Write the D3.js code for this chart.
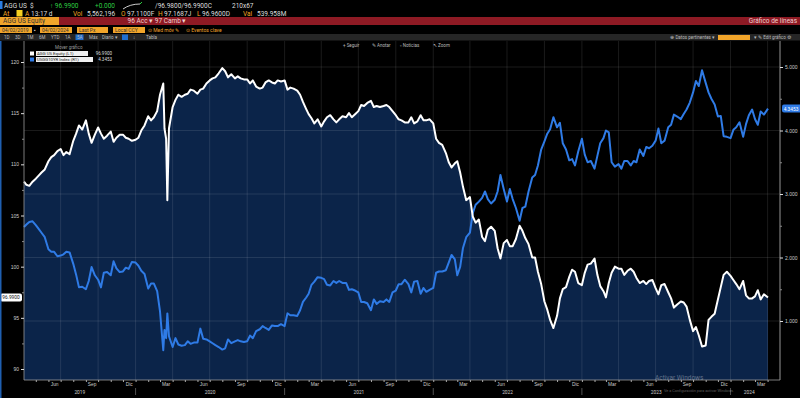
<!doctype html>
<html lang="es">
<head>
<meta charset="utf-8">
<script src="https://cdn.jsdelivr.net/npm/d3@7"></script>
<style>
  body {margin:0; background:#000}
  svg {display:block; font-family:Roboto, "Liberation Sans", sans-serif}
</style>
</head>
<body>
<script>
// weekly-ish closes: AGG US Equity (left axis) and USGG10YR Index (right axis)
const dates = [
"2019-04-02","2019-04-08","2019-04-15","2019-04-23","2019-05-01","2019-05-08","2019-05-15","2019-05-23","2019-06-01","2019-06-08","2019-06-15","2019-06-23","2019-07-01","2019-07-08","2019-07-15","2019-07-23","2019-08-01","2019-08-08","2019-08-15","2019-08-23","2019-09-01","2019-09-08","2019-09-15","2019-09-23","2019-10-01","2019-10-08","2019-10-15","2019-10-23","2019-11-01","2019-11-08","2019-11-15","2019-11-23","2019-12-01","2019-12-08","2019-12-15","2019-12-23",
"2020-01-01","2020-01-08","2020-01-15","2020-01-23","2020-02-01","2020-02-08","2020-02-15","2020-02-23","2020-03-01","2020-03-09","2020-03-12","2020-03-16","2020-03-19","2020-03-23","2020-04-01","2020-04-08","2020-04-15","2020-04-23","2020-05-01","2020-05-08","2020-05-15","2020-05-23","2020-06-01","2020-06-08","2020-06-15","2020-06-23","2020-07-01","2020-07-08","2020-07-15","2020-07-23","2020-08-01","2020-08-08","2020-08-15","2020-08-23","2020-09-01","2020-09-08","2020-09-15","2020-09-23","2020-10-01","2020-10-08","2020-10-15","2020-10-23","2020-11-01","2020-11-08","2020-11-15","2020-11-23","2020-12-01","2020-12-08","2020-12-15","2020-12-23",
"2021-01-01","2021-01-08","2021-01-15","2021-01-23","2021-02-01","2021-02-08","2021-02-15","2021-02-23","2021-03-01","2021-03-08","2021-03-15","2021-03-23","2021-04-01","2021-04-08","2021-04-15","2021-04-23","2021-05-01","2021-05-08","2021-05-15","2021-05-23","2021-06-01","2021-06-08","2021-06-15","2021-06-23","2021-07-01","2021-07-08","2021-07-15","2021-07-23","2021-08-01","2021-08-08","2021-08-15","2021-08-23","2021-09-01","2021-09-08","2021-09-15","2021-09-23","2021-10-01","2021-10-08","2021-10-15","2021-10-23","2021-11-01","2021-11-08","2021-11-15","2021-11-23","2021-12-01","2021-12-08","2021-12-15","2021-12-23",
"2022-01-01","2022-01-08","2022-01-15","2022-01-23","2022-02-01","2022-02-08","2022-02-15","2022-02-23","2022-03-01","2022-03-08","2022-03-15","2022-03-23","2022-04-01","2022-04-08","2022-04-15","2022-04-23","2022-05-01","2022-05-08","2022-05-15","2022-05-23","2022-06-01","2022-06-08","2022-06-15","2022-06-23","2022-07-01","2022-07-08","2022-07-15","2022-07-23","2022-08-01","2022-08-08","2022-08-15","2022-08-23","2022-09-01","2022-09-08","2022-09-15","2022-09-23","2022-10-01","2022-10-08","2022-10-15","2022-10-23","2022-11-01","2022-11-08","2022-11-15","2022-11-23","2022-12-01","2022-12-08","2022-12-15","2022-12-23",
"2023-01-01","2023-01-08","2023-01-15","2023-01-23","2023-02-01","2023-02-08","2023-02-15","2023-02-23","2023-03-01","2023-03-08","2023-03-15","2023-03-23","2023-04-01","2023-04-08","2023-04-15","2023-04-23","2023-05-01","2023-05-08","2023-05-15","2023-05-23","2023-06-01","2023-06-08","2023-06-15","2023-06-23","2023-07-01","2023-07-08","2023-07-15","2023-07-23","2023-08-01","2023-08-08","2023-08-15","2023-08-23","2023-09-01","2023-09-08","2023-09-15","2023-09-23","2023-10-01","2023-10-08","2023-10-15","2023-10-23","2023-11-01","2023-11-08","2023-11-15","2023-11-23","2023-12-01","2023-12-08","2023-12-15","2023-12-23",
"2024-01-01","2024-01-08","2024-01-15","2024-01-23","2024-02-01","2024-02-08","2024-02-15","2024-02-23","2024-03-01","2024-03-08","2024-03-15","2024-03-23","2024-04-02"];

const agg = [
108.3,108.0,107.9,108.3, 108.6,108.9,109.2,109.5, 110.3,110.7,110.9,111.3, 111.5,110.9,111.2,111.0, 112.3,113.0,113.8,113.4, 114.3,113.0,112.1,112.9, 113.6,113.0,112.5,112.8, 113.2,112.2,112.6,112.9, 112.9,112.6,112.5,112.3,
112.4,112.6,113.3,113.8, 114.7,114.3,114.6,115.2, 116.8,117.9,113.5,112.5,106.5,113.5, 115.6,116.3,116.8,116.6, 116.8,116.9,117.3,117.2, 116.9,117.3,117.4,117.9, 118.2,118.4,118.5,118.9, 119.4,119.1,118.5,118.8, 118.4,118.6,118.4,118.3, 118.3,117.9,118.2,117.6, 117.4,117.5,118.0,118.2, 118.0,117.9,118.2,118.1,
118.2,117.3,117.5,117.4, 117.2,116.8,116.1,115.4, 114.9,114.5,114.0,114.4, 113.7,114.2,114.6,114.8, 114.4,114.1,114.4,114.7, 114.6,115.0,114.6,114.9, 115.2,115.8,115.7,116.0, 116.2,115.6,115.7,115.6, 115.7,115.8,115.6,115.2, 114.8,114.4,114.3,114.1, 114.1,114.6,114.0,114.2, 114.8,114.3,114.3,114.4,
114.0,112.5,112.1,111.9, 111.1,110.2,109.7,110.1, 110.3,109.2,107.8,106.5, 106.8,104.9,104.3,104.6, 102.9,102.5,103.6,103.9, 103.5,101.8,100.8,102.3, 102.6,102.0,102.0,102.7, 104.0,103.5,102.8,102.2, 100.9,100.9,99.5,98.3, 96.6,95.8,94.8,94.0, 95.2,96.9,97.8,98.0, 99.0,99.7,99.5,98.4,
98.2,99.4,100.2,100.3, 100.8,99.2,98.1,97.6, 97.0,98.4,99.4,100.0, 99.8,99.8,99.2,99.6, 99.8,99.5,98.9,98.4, 98.6,98.3,98.6,98.7, 97.9,97.3,98.2,98.3, 97.5,96.9,96.0,96.3, 96.6,96.5,96.1,94.8, 93.7,94.1,93.3,92.2, 92.3,94.8,95.1,95.4, 96.8,98.0,99.2,99.5,
99.1,98.7,98.3,97.8, 98.6,97.2,96.9,96.9, 97.1,97.7,96.8,97.3, 96.99];

const yld = [
2.48,2.52,2.56,2.57, 2.51,2.45,2.39,2.32, 2.13,2.09,2.09,2.02, 2.03,2.05,2.09,2.08, 1.90,1.73,1.53,1.54, 1.50,1.63,1.85,1.72, 1.65,1.53,1.76,1.77, 1.72,1.94,1.83,1.77, 1.78,1.84,1.82,1.93,
1.92,1.87,1.79,1.74, 1.51,1.59,1.59,1.47, 1.15,0.54,0.86,0.73,1.12,0.76, 0.59,0.73,0.63,0.61, 0.62,0.68,0.64,0.66, 0.66,0.88,0.72,0.71, 0.68,0.65,0.62,0.59, 0.55,0.57,0.71,0.65, 0.68,0.70,0.68,0.67, 0.68,0.77,0.73,0.84, 0.87,0.92,0.89,0.86, 0.93,0.92,0.92,0.95,
0.92,1.12,1.09,1.09, 1.08,1.17,1.30,1.37, 1.43,1.57,1.62,1.69, 1.68,1.66,1.57,1.56, 1.63,1.60,1.63,1.60, 1.60,1.49,1.50,1.48, 1.45,1.30,1.30,1.28, 1.17,1.34,1.27,1.31, 1.30,1.34,1.30,1.45, 1.48,1.58,1.58,1.65, 1.58,1.45,1.62,1.63, 1.43,1.52,1.46,1.49,
1.52,1.76,1.78,1.78, 1.80,1.92,2.04,1.97, 1.72,1.85,2.15,2.32, 2.39,2.70,2.83,2.88, 2.94,3.04,2.92,2.85, 2.91,3.04,3.30,3.08, 2.88,3.08,2.92,2.78, 2.58,2.78,2.80,3.04, 3.26,3.30,3.45,3.70, 3.83,3.95,4.02,4.21, 4.05,4.12,3.80,3.70, 3.53,3.55,3.45,3.67,
3.87,3.62,3.50,3.52, 3.40,3.60,3.80,3.88, 4.00,3.97,3.50,3.43, 3.47,3.40,3.52,3.52, 3.45,3.52,3.50,3.70, 3.60,3.74,3.72,3.76, 3.84,4.03,3.80,3.84, 4.05,4.09,4.25,4.22, 4.18,4.26,4.33,4.44, 4.60,4.78,4.70,4.95, 4.75,4.60,4.50,4.41, 4.22,4.23,3.91,3.90,
3.88,4.01,4.05,4.13, 3.90,4.10,4.24,4.33, 4.18,4.09,4.30,4.25, 4.3453];

const leftTicks = [90,95,100,105,110,115,120];
const rightTicks = [1,2,3,4,5];
const monthNames = {3:"Mar",6:"Jun",9:"Sep",12:"Dic"};
const years = [2019,2020,2021,2022,2023,2024];

const W = 800, H = 398;
const pTop = 41, pBottom = 380, pLeft = 24, pRight = 780;
const parse = d3.timeParse("%Y-%m-%d");
const data = dates.map((d,i)=>({date:parse(d), agg:agg[i], yld:yld[i]}));

const svg = d3.select("body").append("svg").attr("width",W).attr("height",H);
svg.append("rect").attr("width",W).attr("height",H).attr("fill","#000");

// ---- terminal header ----
const hdr = svg.append("g").attr("font-size","6.5px");
hdr.append("rect").attr("x",0).attr("y",1).attr("width",2.5).attr("height",8).attr("fill","#2a7de1");
hdr.append("text").attr("x",4).attr("y",8).attr("fill","#ddd").text("AGG US");
hdr.append("text").attr("x",30).attr("y",8).attr("fill","#ddd").text("$");
hdr.append("text").attr("x",50).attr("y",8).attr("fill","#2ecc40").text("↑ 96.9900");
hdr.append("text").attr("x",95).attr("y",8).attr("fill","#2ecc40").text("+0.000");
hdr.append("path").attr("d","M123,9 Q130,4 140,4").attr("stroke","#ccc").attr("fill","none");
hdr.append("path").attr("d","M140,4 L142,2").attr("stroke","#2ecc40").attr("fill","none");
hdr.append("text").attr("x",155).attr("y",8).attr("fill","#ddd").text("/96.9800/96.9900C");
hdr.append("text").attr("x",232).attr("y",8).attr("fill","#ddd").text("210x67");

hdr.append("text").attr("x",3).attr("y",15.5).attr("fill","#f5a623").text("At");
hdr.append("rect").attr("x",16.5).attr("y",10).attr("width",6).attr("height",6.5).attr("fill","#f5d020");
hdr.append("text").attr("x",25).attr("y",15.5).attr("fill","#f5a623").text("A");
hdr.append("text").attr("x",31).attr("y",15.5).attr("fill","#ddd").text("13:17 d");
hdr.append("text").attr("x",73).attr("y",15.5).attr("fill","#f5a623").text("Vol");
hdr.append("text").attr("x",87).attr("y",15.5).attr("fill","#ddd").text("5,562,196");
hdr.append("text").attr("x",121).attr("y",15.5).attr("fill","#f5a623").text("O");
hdr.append("text").attr("x",127).attr("y",15.5).attr("fill","#ddd").text("97.1100F");
hdr.append("text").attr("x",158).attr("y",15.5).attr("fill","#f5a623").text("H");
hdr.append("text").attr("x",164).attr("y",15.5).attr("fill","#ddd").text("97.1687J");
hdr.append("text").attr("x",197).attr("y",15.5).attr("fill","#f5a623").text("L");
hdr.append("text").attr("x",202).attr("y",15.5).attr("fill","#ddd").text("96.9600D");
hdr.append("text").attr("x",243).attr("y",15.5).attr("fill","#f5a623").text("Val");
hdr.append("text").attr("x",257).attr("y",15.5).attr("fill","#ddd").text("539.958M");

hdr.append("rect").attr("x",0).attr("y",17).attr("width",W).attr("height",8).attr("fill","#8e1a24");
hdr.append("rect").attr("x",0).attr("y",17).attr("width",59).attr("height",8).attr("fill","#f2a52a");
hdr.append("text").attr("x",3).attr("y",23.3).attr("fill","#333").text("AGG US Equity");
hdr.append("text").attr("x",157).attr("y",23.3).attr("fill","#f0d0d0").attr("text-anchor","middle").text("96 Acc ▾   97 Camb ▾");
hdr.append("text").attr("x",797).attr("y",23.3).attr("fill","#f0d0d0").attr("text-anchor","end").text("Gráfico de líneas");

[[0,32,"04/02/2019"],[40,32,"04/02/2024"],[77,31,"Last Px"],[113,32,"Local CCY"]].forEach(b=>{
  hdr.append("rect").attr("x",b[0]).attr("y",27).attr("width",b[1]).attr("height",6).attr("fill","#f2a52a");
  hdr.append("text").attr("x",b[0]+2).attr("y",32).attr("font-size","5px").attr("fill","#333").text(b[2]);
});
hdr.append("text").attr("x",34).attr("y",32).attr("font-size","5px").attr("fill","#ccc").text("▪");
hdr.append("text").attr("x",148).attr("y",32).attr("font-size","5px").attr("fill","#f2a52a").text("⊙ Med móv ✎");
hdr.append("text").attr("x",186).attr("y",32).attr("font-size","5px").attr("fill","#f2a52a").text("⊙ Eventos clave");

hdr.append("rect").attr("x",0).attr("y",34).attr("width",W).attr("height",6.5).attr("fill","#262626");
hdr.append("rect").attr("x",75.5).attr("y",34.5).attr("width",8).attr("height",5.5).attr("fill","#1f6fd0");
hdr.append("rect").attr("x",122).attr("y",34.5).attr("width",6).attr("height",5.5).attr("fill","#1f6fd0");
[[4,"1D"],[15,"3D"],[27,"1M"],[39,"6M"],[51,"YTD"],[65,"1A"],[77,"5A"],[89,"Máx"],[102,"Diario ▾"],[133,"↕"],[146,"Tabla"]].forEach(b=>{
  hdr.append("text").attr("x",b[0]).attr("y",39.3).attr("font-size","4.5px").attr("fill","#bbb").text(b[1]);
});
hdr.append("text").attr("x",715).attr("y",39.3).attr("font-size","4.5px").attr("fill","#bbb").attr("text-anchor","end").text("⊕ Datos pertinentes ▾");
hdr.append("rect").attr("x",718).attr("y",35).attr("width",32).attr("height",5).attr("fill","#f2a52a");
hdr.append("text").attr("x",754).attr("y",39.3).attr("font-size","4.5px").attr("fill","#bbb").text("▾ ✎ Edit gráfico ⚙");

// ---- scales ----
const x = d3.scaleTime().domain([parse("2019-04-02"), parse("2024-04-02")]).range([pLeft, 768]);
const yL = d3.scaleLinear().domain([90,120]).range([369,62]);
const yR = d3.scaleLinear().domain([1,5]).range([321,67]);

// area under AGG
svg.append("path").datum(data)
  .attr("fill","#0b2449")
  .attr("d", d3.area().x(d=>x(d.date)).y0(pBottom).y1(d=>yL(d.agg)));

// grid
const quarters = d3.timeMonth.range(parse("2019-04-02"), parse("2024-04-02"))
  .filter(d=>[0,3,6,9].includes(d.getMonth()));
svg.append("g").selectAll("line").data(quarters).join("line")
  .attr("x1",d=>x(d)).attr("x2",d=>x(d)).attr("y1",pTop).attr("y2",pBottom)
  .attr("stroke","#fff").attr("stroke-opacity",0.15).attr("stroke-width",0.7);
svg.append("g").selectAll("line").data(rightTicks).join("line")
  .attr("x1",pLeft).attr("x2",pRight).attr("y1",d=>yR(d)).attr("y2",d=>yR(d))
  .attr("stroke","#fff").attr("stroke-opacity",0.15).attr("stroke-width",0.7);

// lines
svg.append("path").datum(data)
  .attr("fill","none").attr("stroke","#2f7be6").attr("stroke-width",2).attr("stroke-linejoin","round")
  .attr("d", d3.line().x(d=>x(d.date)).y(d=>yR(d.yld)));
svg.append("path").datum(data)
  .attr("fill","none").attr("stroke","#fff").attr("stroke-width",2).attr("stroke-linejoin","round")
  .attr("d", d3.line().x(d=>x(d.date)).y(d=>yL(d.agg)));

// frame
svg.append("line").attr("x1",pLeft).attr("x2",pLeft).attr("y1",pTop).attr("y2",pBottom).attr("stroke","#999").attr("stroke-width",0.8);
svg.append("line").attr("x1",pRight).attr("x2",pRight).attr("y1",pTop).attr("y2",pBottom).attr("stroke","#bbb").attr("stroke-width",0.8);
svg.append("line").attr("x1",pLeft).attr("x2",pRight).attr("y1",pBottom).attr("y2",pBottom).attr("stroke","#999").attr("stroke-width",0.8);

// left axis
const axL = svg.append("g").attr("transform",`translate(${pLeft},0)`)
  .call(d3.axisLeft(yL).tickValues(leftTicks).tickSize(3).tickPadding(2).tickFormat(d3.format("d")));
axL.select(".domain").remove();
axL.selectAll("line").attr("stroke","#ddd");
axL.selectAll("text").attr("fill","#ccc").attr("font-size","5px");
svg.append("g").attr("transform",`translate(${pLeft},0)`)
  .call(d3.axisLeft(yL).tickValues([92.5,97.5,102.5,107.5,112.5,117.5]).tickSize(2).tickFormat(""))
  .call(g=>{g.select(".domain").remove(); g.selectAll("line").attr("stroke","#888");});

// right axis
const axR = svg.append("g").attr("transform",`translate(${pRight},0)`)
  .call(d3.axisRight(yR).tickValues(rightTicks).tickSize(3).tickPadding(2).tickFormat(d3.format(".3f")));
axR.select(".domain").remove();
axR.selectAll("line").attr("stroke","#ddd");
axR.selectAll("text").attr("fill","#ccc").attr("font-size","5px");
svg.append("g").attr("transform",`translate(${pRight},0)`)
  .call(d3.axisRight(yR).tickValues([1.5,2.5,3.5,4.5]).tickSize(2).tickFormat(""))
  .call(g=>{g.select(".domain").remove(); g.selectAll("line").attr("stroke","#888");});

// bottom axis: monthly ticks, quarterly labels mid-month
const months = d3.timeMonth.range(parse("2019-04-02"), parse("2024-04-02"));
svg.append("g").attr("transform",`translate(0,${pBottom})`)
  .call(d3.axisBottom(x).tickValues(months).tickSize(2).tickFormat(""))
  .call(g=>{g.select(".domain").remove(); g.selectAll("line").attr("stroke","#aaa");});
const labelDates = months.filter(d=>monthNames[d.getMonth()+1]).map(d=>d3.timeDay.offset(d,14));
svg.append("g").attr("transform",`translate(0,${pBottom})`)
  .call(d3.axisBottom(x).tickValues(labelDates).tickSize(0).tickPadding(3)
    .tickFormat(d=>monthNames[d.getMonth()+1]))
  .call(g=>{g.select(".domain").remove(); g.selectAll("text").attr("fill","#ccc").attr("font-size","4.8px");});

// year row
const x0 = x.domain()[0], x1 = x.domain()[1];
years.forEach(yv=>{
  const s = d3.max([new Date(yv,0,1), x0]), e = d3.min([new Date(yv+1,0,1), x1]);
  svg.append("text").attr("x",(x(s)+x(e))/2).attr("y",394).attr("text-anchor","middle")
    .attr("fill","#ccc").attr("font-size","4.8px").text(yv);
  if (yv>2019) svg.append("line").attr("x1",x(new Date(yv,0,1))).attr("x2",x(new Date(yv,0,1)))
    .attr("y1",388).attr("y2",395).attr("stroke","#888").attr("stroke-width",0.6);
});

// last value tags
const lastA = agg[agg.length-1], lastY = yld[yld.length-1];
svg.append("rect").attr("x",0).attr("y",yL(lastA)-4).attr("width",22).attr("height",8).attr("rx",2).attr("fill","#fff");
svg.append("text").attr("x",11).attr("y",yL(lastA)+2).attr("text-anchor","middle").attr("font-size","4.8px").attr("fill","#111").text(lastA.toFixed(4));
svg.append("rect").attr("x",782).attr("y",yR(lastY)-4).attr("width",20).attr("height",8).attr("rx",2).attr("fill","#2f7be6");
svg.append("text").attr("x",791).attr("y",yR(lastY)+2).attr("text-anchor","middle").attr("font-size","4.8px").attr("fill","#fff").text(lastY.toFixed(4));

// left edge accent
svg.append("rect").attr("x",0).attr("y",41).attr("width",1.5).attr("height",357).attr("fill","#1f5fb0");

// annotation toolbar
[[343,"+ Seguir"],[372,"✎ Anotar"],[400,"▫ Noticias"],[433,"↖ Zoom"]].forEach(b=>{
  svg.append("text").attr("x",b[0]).attr("y",46.5).attr("font-size","4.5px").attr("fill","#bbb").text(b[1]);
});

// legend
const lg = svg.append("g");
lg.append("text").attr("x",55).attr("y",48.5).attr("font-size","4.5px").attr("fill","#999").text("Mover gráfico");
[["AGG US Equity  (L1)", lastA.toFixed(4), "#fff"], ["USGG10YR Index  (R1)", lastY.toFixed(4), "#2f7be6"]].forEach((r,i)=>{
  const yy = 51 + i*6;
  lg.append("rect").attr("x",30).attr("y",yy+0.5).attr("width",4).attr("height",4).attr("fill",r[2]);
  lg.append("rect").attr("x",36).attr("y",yy).attr("width",i?57:52).attr("height",5).attr("fill","#f0f0f0");
  lg.append("text").attr("x",37).attr("y",yy+4).attr("font-size","4.3px").attr("fill","#222").text(r[0]);
  lg.append("text").attr("x",112).attr("y",yy+4).attr("text-anchor","end").attr("font-size","4.5px").attr("fill","#ddd").text(r[1]);
});

// OS watermark
svg.append("text").attr("x",655).attr("y",379.5).attr("font-size","6.5px").attr("fill","#fff").attr("fill-opacity",0.35).text("Activar Windows");
svg.append("text").attr("x",664).attr("y",391.8).attr("font-size","3.8px").attr("fill","#fff").attr("fill-opacity",0.35).text("Ve a Configuración para activar Windows.");
</script>
</body>
</html>
